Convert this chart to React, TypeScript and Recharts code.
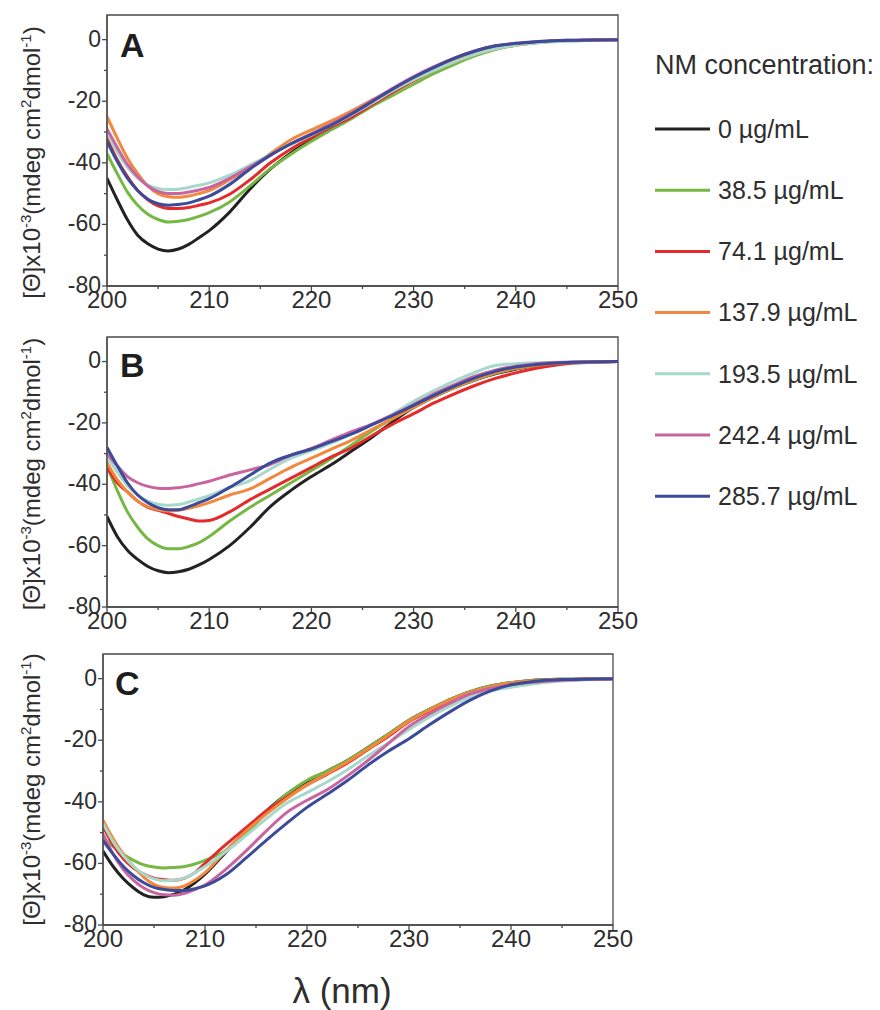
import { LineChart, Line, XAxis, YAxis, ReferenceArea } from 'recharts';

const FONT = '"Liberation Sans", Arial, Helvetica, sans-serif';
const AXIS = '#4a4a4a';
const TEXT = '#2e2e2e';

const wavelengths = [200, 201, 202, 203, 204, 205, 206, 207, 208, 209, 210, 212, 214, 216, 218, 220, 222, 224, 226, 228, 230, 232, 234, 236, 238, 240, 242, 245, 250];
const xTicks = [200, 205, 210, 215, 220, 225, 230, 235, 240, 245, 250];
const yTicks = [-80, -70, -60, -50, -40, -30, -20, -10, 0];

const concentrations = ['0 µg/mL', '38.5 µg/mL', '74.1 µg/mL', '137.9 µg/mL', '193.5 µg/mL', '242.4 µg/mL', '285.7 µg/mL'];
const colors = ['#222222', '#76b843', '#e32b2b', '#f0883e', '#a6d9cb', '#c8649f', '#3c4a9a'];

// panel A
const a0 = [-45, -52, -58.5, -63.5, -66.3, -68, -68.6, -68, -66.5, -64.3, -62, -56, -48.5, -42, -36.8, -32.5, -28.5, -24.5, -20.5, -16.5, -13, -9.5, -6.7, -4.3, -2.5, -1.5, -0.8, -0.3, 0];
const a38 = [-37, -43.5, -49.5, -53.8, -56.7, -58.4, -59.2, -59, -58.4, -57.4, -56.2, -52.7, -47.5, -41.8, -37.2, -33, -29.2, -25.5, -21.5, -18, -14.5, -11, -8, -5.3, -3.2, -1.8, -1, -0.4, 0];
const a74 = [-32, -39, -44.5, -49, -52, -54, -54.8, -54.8, -54.5, -53.8, -53, -50.2, -45.5, -40, -35.5, -31.8, -28.3, -25, -21, -17, -13.3, -10, -7, -4.5, -2.7, -1.6, -0.9, -0.3, 0];
const a137 = [-25, -32, -38.5, -43.5, -47.5, -50, -51, -51.2, -50.8, -50, -49, -45.5, -41.5, -37, -32.5, -29.3, -26.3, -23, -19.5, -16, -13, -10, -7.2, -4.8, -3, -1.8, -1, -0.4, 0];
const a193 = [-30, -36.5, -41.5, -45, -47.2, -48.3, -48.7, -48.6, -48, -47.3, -46.5, -44, -40.7, -37.3, -34, -31, -27.8, -24.3, -20.5, -16.5, -13, -10, -7.2, -4.8, -3, -1.8, -1.1, -0.5, 0];
const a242 = [-29, -35, -40.5, -44.5, -47.5, -49.3, -50, -50, -49.5, -48.8, -48, -45, -41.3, -37.5, -33.8, -30.5, -27.3, -23.7, -19.7, -15.7, -12, -8.8, -6, -3.7, -2, -1.2, -0.6, -0.2, 0];
const a285 = [-33, -39.5, -45, -49, -51.8, -53.3, -53.8, -53.5, -53, -52, -50.8, -47, -42, -37.5, -33.8, -30.8, -27.7, -24, -20, -16, -12.3, -9, -6, -3.7, -2, -1.2, -0.7, -0.2, 0];

// panel B
const b0 = [-50.5, -57, -61.5, -64.5, -66.8, -68.2, -68.8, -68.5, -67.7, -66.3, -64.5, -60, -54, -47.2, -42, -37.5, -33.5, -29, -24.5, -19.5, -15, -11.5, -8.5, -6, -4, -2.5, -1.2, -0.3, 0];
const b38 = [-34, -42, -49, -54, -57.8, -60, -61, -61, -60.3, -59, -57, -52, -47.5, -43.5, -39.5, -35.5, -31.5, -27, -22.5, -18.5, -14.8, -11.5, -8.5, -6, -3.8, -2.3, -1.2, -0.3, 0];
const b74 = [-34.5, -39.5, -42.5, -45.5, -47.5, -48.5, -49.5, -50.5, -51.3, -52, -51.8, -49, -45, -41.5, -38, -34.5, -31, -28, -24, -20.3, -17, -13.5, -10.5, -7.8, -5.5, -3.7, -2.2, -0.7, 0];
const b137 = [-33, -38.5, -42.5, -45.5, -47.3, -48.3, -48.7, -48.5, -47.8, -47, -46, -43.5, -41.5, -38, -34.5, -31.5, -28.5, -25.5, -22, -18.5, -15, -11.5, -8.5, -5.8, -3.7, -2.2, -1.2, -0.4, 0];
const b193 = [-31, -36, -40.5, -43.5, -45.5, -46.5, -46.8, -46.6, -45.8, -44.8, -43.7, -41, -38.8, -35, -31.5, -29, -26.5, -23.5, -20.5, -17, -13, -9.5, -6.3, -3.5, -1.3, -0.7, -0.4, -0.2, 0];
const b242 = [-30, -34, -37.5, -39.5, -40.7, -41.3, -41.4, -41.1, -40.6, -39.8, -39, -37, -35.3, -33.5, -30.5, -28.3, -25.5, -22.8, -20.3, -17.3, -14, -10.5, -7.5, -4.8, -2.8, -1.5, -0.7, -0.2, 0];
const b285 = [-28, -34, -39.5, -43.5, -46, -47.6, -48.3, -48.3, -47.3, -46, -44.7, -41, -37, -33, -30.5, -28.5, -26, -23.5, -20.5, -17.5, -14.3, -11, -8, -5.3, -3.2, -1.8, -1, -0.3, 0];

// panel C
const c0 = [-56, -61, -65, -68, -70.2, -71, -70.8, -70, -68.5, -66.3, -63.5, -56.5, -49.5, -43, -37.5, -33.3, -30, -26.5, -22.3, -18, -13.5, -10, -6.8, -4.2, -2.4, -1.3, -0.6, -0.2, 0];
const c38 = [-51.5, -54.5, -57, -59, -60.5, -61.2, -61.5, -61.3, -61, -60.2, -59, -56, -50.5, -43.5, -37.5, -33, -30, -26.5, -22.3, -18, -13.5, -10, -6.8, -4.2, -2.4, -1.3, -0.6, -0.2, 0];
const c74 = [-48, -54, -58.5, -61.5, -63.5, -64.8, -65.3, -65.5, -64.8, -63, -60, -54, -48.5, -43, -38.5, -34.5, -31, -27.3, -23, -18.7, -14, -10.5, -7.2, -4.6, -2.8, -1.5, -0.8, -0.3, 0];
const c137 = [-46, -52, -57, -61, -64.5, -66.8, -67.8, -68, -67.3, -65.5, -63, -56, -49.5, -44, -39, -34.5, -30.8, -27, -22.8, -18.3, -13.8, -10.2, -7, -4.4, -2.6, -1.4, -0.8, -0.3, 0];
const c193 = [-47, -53, -57.5, -61, -63.5, -65, -65.6, -65.5, -64.7, -63, -61, -56.3, -51, -45.5, -40.5, -37, -33.5, -29.5, -25, -20.8, -16.5, -12.5, -9, -6, -4, -2.8, -1.8, -0.8, 0];
const c242 = [-50.5, -57, -62, -65.5, -68, -69.5, -70.2, -70.3, -69.7, -68.5, -67, -62, -56, -49.5, -43.5, -39.5, -36, -31.5, -26.5, -21, -15.5, -11.5, -8, -5, -3.2, -2, -1.2, -0.5, 0];
const c285 = [-52.5, -57, -61, -64, -66.3, -67.8, -68.5, -68.8, -68.8, -68.2, -67.3, -63.8, -58.3, -52.5, -47, -41.8, -37.5, -33, -28, -23.5, -19.5, -15, -10.8, -7, -4, -2, -1, -0.3, 0];

const buildRows = (series: number[][]) =>
  wavelengths.map((w, i) => {
    const row: Record<string, number> = { w };
    series.forEach((s, k) => {
      row['s' + k] = s[i];
    });
    return row;
  });

const rowsA = buildRows([a0, a38, a74, a137, a193, a242, a285]);
const rowsB = buildRows([b0, b38, b74, b137, b193, b242, b285]);
const rowsC = buildRows([c0, c38, c74, c137, c193, c242, c285]);

const XTick = (props: any) => {
  const { x, y, payload } = props;
  const major = payload.value % 10 === 0;
  return (
    <g>
      <line x1={x} y1={y} x2={x} y2={y + (major ? 5 : 3)} stroke={AXIS} strokeWidth={1.3} />
      {major && (
        <text x={x} y={y + 22} textAnchor="middle" fontSize={24} fill={TEXT} fontFamily={FONT}>
          {payload.value}
        </text>
      )}
    </g>
  );
};

const YTick = (props: any) => {
  const { x, y, payload } = props;
  const major = payload.value % 20 === 0;
  return (
    <g>
      <line x1={x} y1={y} x2={x - (major ? 5 : 3)} y2={y} stroke={AXIS} strokeWidth={1.3} />
      {major && (
        <text x={x - 6} y={y} dy="0.3em" textAnchor="end" fontSize={23} fill={TEXT} fontFamily={FONT}>
          {payload.value}
        </text>
      )}
    </g>
  );
};

const YTitle = (props: any) => {
  const vb = props.viewBox;
  const cx = 32;
  const cy = vb.y + vb.height / 2 + (props.shift || 0);
  return (
    <text
      x={cx}
      y={cy}
      transform={`rotate(-90 ${cx} ${cy})`}
      textAnchor="middle"
      dy="0.35em"
      fontSize={24}
      fill={TEXT}
      fontFamily={FONT}
    >
      [Θ]x10<tspan dy={-9} fontSize={15}>-3</tspan>
      <tspan dy={9}>(mdeg cm</tspan>
      <tspan dy={-9} fontSize={15}>2</tspan>
      <tspan dy={9}>dmol</tspan>
      <tspan dy={-9} fontSize={15}>-1</tspan>
      <tspan dy={9}>)</tspan>
    </text>
  );
};

const PanelLetter = (props: any) => {
  const vb = props.viewBox;
  return (
    <text x={vb.x + props.dx} y={vb.y + props.dy} fontSize={34} fontWeight="bold" fill="#1e1e1e" fontFamily={FONT}>
      {props.letter}
    </text>
  );
};

const XTitle = (props: any) => {
  const vb = props.viewBox;
  return (
    <text x={vb.x + vb.width / 2 - 16} y={vb.y + 78} textAnchor="middle" fontSize={35} fill={TEXT} fontFamily={FONT}>
      λ (nm)
    </text>
  );
};

interface PanelProps {
  rows: Record<string, number>[];
  letter: string;
  top: number;
  height: number;
  plotTop: number;
  plotBottom: number;
  plotLeft: number;
  plotRight: number;
  letterDx: number;
  letterDy: number;
  titleShift: number;
  showXTitle?: boolean;
}

const Panel = (p: PanelProps) => (
  <div style={{ position: 'absolute', left: 0, top: p.top }}>
    <LineChart
      width={880}
      height={p.height}
      data={p.rows}
      margin={{ top: p.plotTop - p.top, right: 880 - p.plotRight, left: 0, bottom: 0 }}
    >
      <XAxis
        dataKey="w"
        type="number"
        domain={[200, 250]}
        allowDataOverflow
        ticks={xTicks}
        interval={0}
        height={p.top + p.height - p.plotBottom}
        tickSize={0}
        tickMargin={0}
        tickLine={false}
        tick={<XTick />}
        axisLine={{ stroke: AXIS, strokeWidth: 1.3 }}
        label={p.showXTitle ? <XTitle /> : undefined}
      />
      <YAxis
        type="number"
        domain={[-80, 8]}
        allowDataOverflow
        ticks={yTicks}
        interval={0}
        width={p.plotLeft}
        tickSize={0}
        tickMargin={0}
        tickLine={false}
        tick={<YTick />}
        axisLine={{ stroke: AXIS, strokeWidth: 1.3 }}
        label={<YTitle shift={p.titleShift} />}
      />
      <ReferenceArea
        x1={200}
        x2={250}
        y1={-80}
        y2={8}
        fill="none"
        stroke={AXIS}
        strokeWidth={1.3}
        label={<PanelLetter letter={p.letter} dx={p.letterDx} dy={p.letterDy} />}
      />
      {colors.map((c, k) => (
        <Line
          key={k}
          type="monotone"
          dataKey={'s' + k}
          stroke={c}
          strokeWidth={3}
          dot={false}
          activeDot={false}
          isAnimationActive={false}
        />
      ))}
    </LineChart>
  </div>
);

const LegendBox = () => (
  <svg width={880} height={540} style={{ position: 'absolute', left: 0, top: 0, pointerEvents: 'none' }}>
    <text x={655} y={65} dy="0.35em" fontSize={27} fill={TEXT} fontFamily={FONT}>
      NM concentration:
    </text>
    {concentrations.map((label, i) => {
      const y = 129 + i * 61.2;
      return (
        <g key={label}>
          <line x1={655} x2={710} y1={y} y2={y} stroke={colors[i]} strokeWidth={3} />
          <text x={718} y={y} dy="0.35em" fontSize={25} fill={TEXT} fontFamily={FONT}>
            {label}
          </text>
        </g>
      );
    })}
  </svg>
);

export default function App() {
  return (
    <div style={{ position: 'absolute', left: 0, top: 0, width: 880, height: 1010, background: '#fff' }}>
      <Panel rows={rowsA} letter="A" top={0} height={320} plotTop={15} plotBottom={286} plotLeft={107} plotRight={618} letterDx={13} letterDy={42} titleShift={12} />
      <Panel rows={rowsB} letter="B" top={320} height={320} plotTop={337} plotBottom={607} plotLeft={107} plotRight={618} letterDx={13} letterDy={40} titleShift={2} />
      <Panel rows={rowsC} letter="C" top={640} height={370} plotTop={654} plotBottom={925} plotLeft={103} plotRight={613} letterDx={12} letterDy={41} titleShift={0} showXTitle />
      <LegendBox />
    </div>
  );
}
